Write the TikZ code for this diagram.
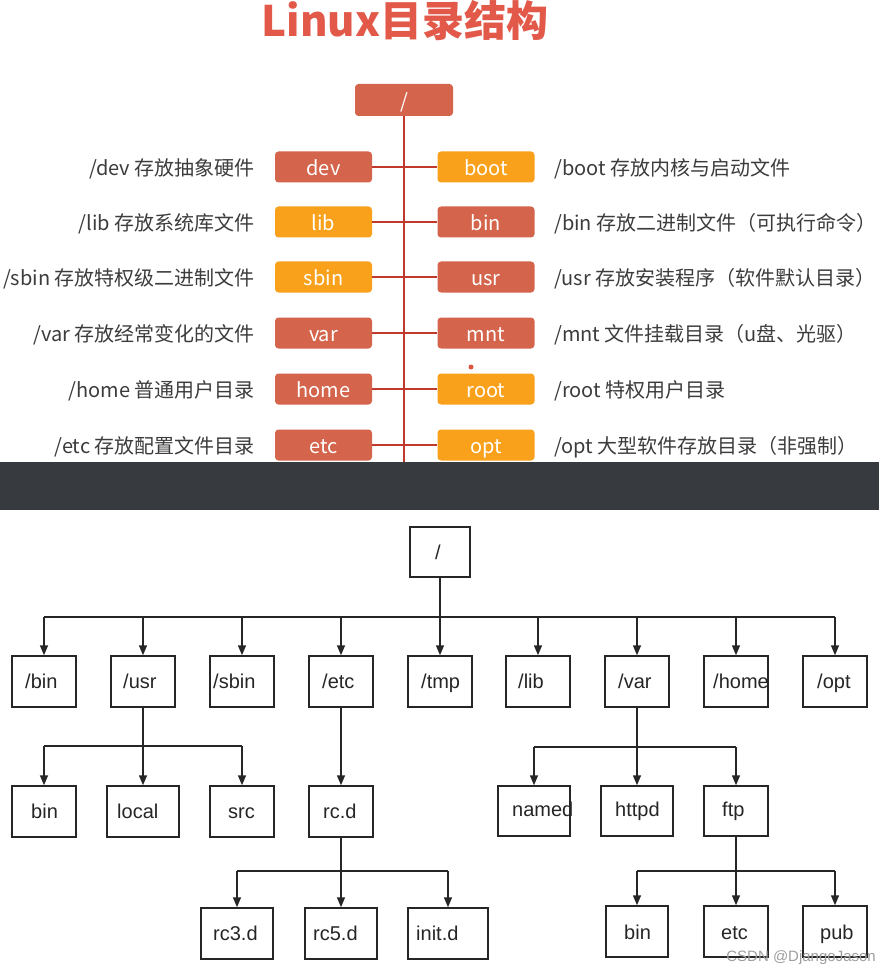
\documentclass[tikz,border=0pt]{standalone}
\usepackage{fontspec}
\newfontfamily\cjk{Noto Sans CJK SC}
\newfontfamily\arialf{Liberation Sans}
\usetikzlibrary{arrows.meta}
\definecolor{terra}{HTML}{D4644B}
\definecolor{orng}{HTML}{F9A11B}
\definecolor{redline}{HTML}{C0392B}
\definecolor{ttl}{HTML}{E2594A}
\definecolor{bandc}{HTML}{373B3F}
\definecolor{descc}{HTML}{3C3C3C}
\definecolor{ink}{HTML}{262626}
\begin{document}
\begin{tikzpicture}[x=1pt,y=-1pt,
  tbox/.style={rounded corners=3.5pt, minimum width=97pt, minimum height=31pt, inner sep=0pt,
    text=white, text height=18pt, text depth=0.5pt, font=\cjk\fontsize{20}{24}\selectfont},
  rbox/.style={tbox, fill=terra},
  obox/.style={tbox, fill=orng},
  rline/.style={draw=redline, line width=1.8pt},
  ldesc/.style={anchor=east, inner sep=0pt, text=descc, text height=18pt, text depth=0.5pt,
    font=\cjk\fontsize{20}{24}\selectfont},
  rdesc/.style={ldesc, anchor=west},
  bbox/.style={draw=ink, line width=1.5pt, minimum width=64pt, minimum height=51pt, inner sep=0pt},
  blbl/.style={anchor=base west, inner sep=0pt, text=ink, font=\arialf\fontsize{20}{24}\selectfont},
  ln/.style={draw=ink, line width=1.5pt},
  arr/.style={ln, -{Triangle[width=8pt,length=10pt]}}
]
\useasboundingbox (0,0) rectangle (879,973);
\fill[white] (0,0) rectangle (879,973);

% ---------- top part ----------
\node[font=\cjk\bfseries\fontsize{42}{48}\selectfont, text=ttl, inner sep=0pt] (title) at (405,21) {Linux目录结构};

\node[rbox, minimum width=98pt, minimum height=32pt] (troot) at (404,100) {/};
\coordinate (vend) at (404,462);
\draw[rline] (troot.south) -- (vend);

\node[rbox] (dev)  at (323.5,167) {dev};  \node[obox] (boot) at (486,167) {boot};
\node[obox] (lib)  at (323.5,222) {lib};  \node[rbox] (bin)  at (486,222) {bin};
\node[obox] (sbin) at (323.5,277) {sbin}; \node[rbox] (usr)  at (486,277) {usr};
\node[rbox] (var)  at (323.5,333) {var};  \node[rbox] (mnt)  at (486,333) {mnt};
\node[rbox] (home) at (323.5,389) {home}; \node[obox] (root) at (486,389) {root};
\node[rbox] (etc)  at (323.5,445) {etc};  \node[obox] (opt)  at (486,445) {opt};

\foreach \a/\b in {dev/boot,lib/bin,sbin/usr,var/mnt,home/root,etc/opt}
  \draw[rline] (\a.east) -- (\b.west);

\node[ldesc] (devd)  at (255,167) {/dev 存放抽象硬件};
\node[ldesc] (libd)  at (255,222) {/lib 存放系统库文件};
\node[ldesc] (sbind) at (255,277) {/sbin 存放特权级二进制文件};
\node[ldesc] (vard)  at (255,333) {/var 存放经常变化的文件};
\node[ldesc] (homed) at (255,389) {/home 普通用户目录};
\node[ldesc] (etcd)  at (255,445) {/etc 存放配置文件目录};

\node[rdesc] (bootd) at (554,167) {/boot 存放内核与启动文件};
\node[rdesc] (bind)  at (554,222) {/bin 存放二进制文件（可执行命令）};
\node[rdesc] (usrd)  at (554,277) {/usr 存放安装程序（软件默认目录）};
\node[rdesc] (mntd)  at (554,333) {/mnt 文件挂载目录（u盘、光驱）};
\node[rdesc] (rootd) at (554,389) {/root 特权用户目录};
\node[rdesc] (optd)  at (554,445) {/opt 大型软件存放目录（非强制）};

\fill[terra!85!red] (471,367) circle (2.5);

% ---------- dark band ----------
\fill[bandc] (0,462) rectangle (879,510);

% ---------- bottom tree ----------
\node[bbox, minimum width=60pt, minimum height=50pt] (b-root) at (440,552) {};
\node[blbl, anchor=base] (b-root-t) at (438,559) {/};

\foreach \n/\x/\t/\tx in {bin/44/{/bin}/25, usr/143/{/usr}/123, sbin/242/{/sbin}/213, etc/341/{/etc}/322,
    tmp/440/{/tmp}/421, lib/538/{/lib}/518, var/637/{/var}/618, home/736/{/home}/713, opt/835/{/opt}/817}{
  \node[bbox] (b-\n) at (\x,681.5) {};
  \node[blbl] (b-\n-t) at (\tx,688) {\t};
}

\coordinate (j1) at (440,617);
\draw[ln] (b-root.south) -- (j1);
\draw[ln] (b-bin.north |- j1) -- (b-opt.north |- j1);
\foreach \n in {bin,usr,sbin,etc,tmp,lib,var,home,opt}
  \draw[arr] (b-\n.north |- j1) -- (b-\n.north);

% level 2 under /usr and /etc
\node[bbox] (c-bin) at (44,811.5) {};                          \node[blbl] (c-bin-t) at (31,818) {bin};
\node[bbox, minimum width=72pt] (c-local) at (143,811.5) {};   \node[blbl] (c-local-t) at (117,818) {local};
\node[bbox] (c-src) at (242,811.5) {};                         \node[blbl] (c-src-t) at (228,818) {src};
\node[bbox] (c-rcd) at (341,811.5) {};                         \node[blbl] (c-rcd-t) at (323,818) {rc.d};

\coordinate (j2) at (143,746);
\draw[ln] (b-usr.south) -- (j2);
\draw[ln] (c-bin.north |- j2) -- (c-src.north |- j2);
\foreach \n in {bin,local,src}
  \draw[arr] (c-\n.north |- j2) -- (c-\n.north);
\draw[arr] (b-etc.south) -- (c-rcd.north);

% level 2 under /var
\node[bbox, minimum width=72pt, minimum height=50pt] (c-named) at (534,811) {};  \node[blbl] (c-named-t) at (512,816) {named};
\node[bbox, minimum width=72pt, minimum height=50pt] (c-httpd) at (637,811) {};  \node[blbl] (c-httpd-t) at (615,816) {httpd};
\node[bbox, minimum height=50pt] (c-ftp) at (736,811) {};                        \node[blbl] (c-ftp-t) at (722,816) {ftp};

\coordinate (j3) at (637,747);
\draw[ln] (b-var.south) -- (j3);
\draw[ln] (c-named.north |- j3) -- (c-ftp.north |- j3);
\foreach \n in {named,httpd,ftp}
  \draw[arr] (c-\n.north |- j3) -- (c-\n.north);

% level 3 under rc.d
\node[bbox, minimum width=72pt] (d-rc3) at (237,933.5) {};    \node[blbl] (d-rc3-t) at (213,940) {rc3.d};
\node[bbox, minimum width=72pt] (d-rc5) at (341,933.5) {};    \node[blbl] (d-rc5-t) at (313,940) {rc5.d};
\node[bbox, minimum width=80pt] (d-init) at (448,933.5) {};   \node[blbl] (d-init-t) at (416,940) {init.d};

\coordinate (j4) at (341,871);
\draw[ln] (c-rcd.south) -- (j4);
\draw[ln] (d-rc3.north |- j4) -- (d-init.north |- j4);
\foreach \n in {rc3,rc5,init}
  \draw[arr] (d-\n.north |- j4) -- (d-\n.north);

% level 3 under ftp
\node[bbox, minimum width=62pt] (d-bin) at (637,931.5) {};  \node[blbl] (d-bin-t) at (624,939) {bin};
\node[bbox] (d-etc) at (736,931.5) {};                      \node[blbl] (d-etc-t) at (721,939) {etc};
\node[bbox] (d-pub) at (835,931.5) {};                      \node[blbl] (d-pub-t) at (820,939) {pub};

\coordinate (j5) at (736,871);
\draw[ln] (c-ftp.south) -- (j5);
\draw[ln] (d-bin.north |- j5) -- (d-pub.north |- j5);
\foreach \n in {bin,etc,pub}
  \draw[arr] (d-\n.north |- j5) -- (d-\n.north);

\node[anchor=east, inner sep=0pt, text=black!38, font=\arialf\fontsize{15}{18}\selectfont] (wm) at (876,958) {CSDN @DjangoJason};
\end{tikzpicture}
\end{document}
